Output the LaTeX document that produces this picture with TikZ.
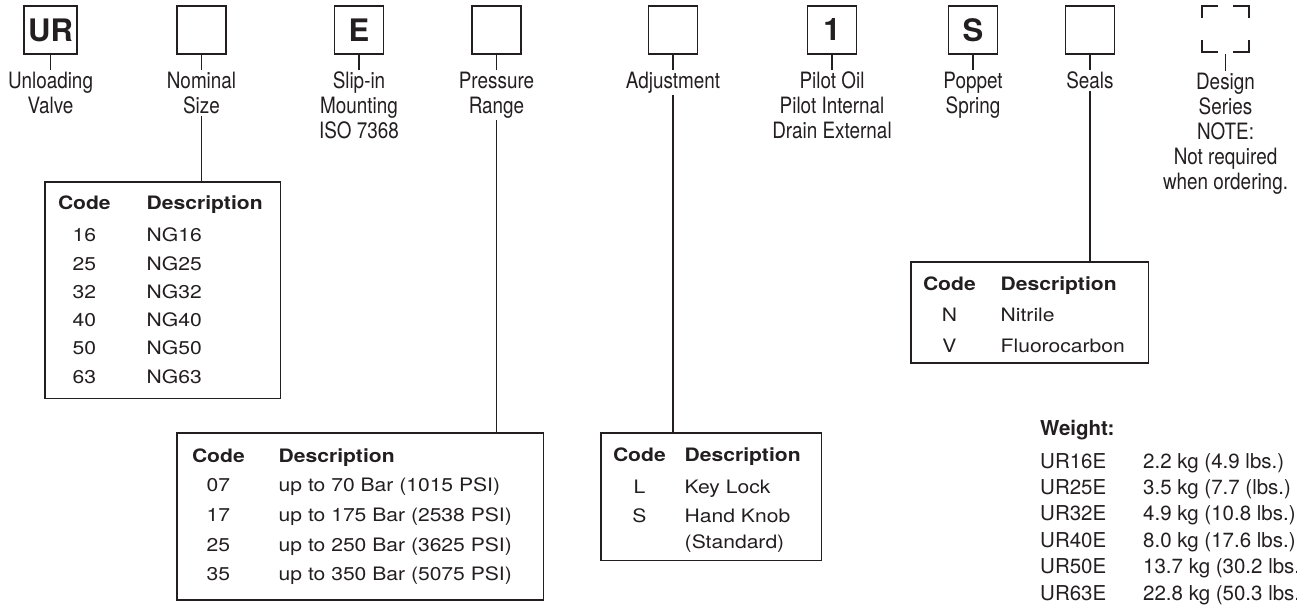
\documentclass[tikz,border=0pt]{standalone}
\usepackage{fontspec}
\setmainfont{TeX Gyre Heros}
\newfontfamily\capfont[FakeStretch=0.84]{TeX Gyre Heros}
\newfontfamily\tabfont[FakeStretch=1.14]{TeX Gyre Heros}
\usetikzlibrary{positioning}
\definecolor{ink}{RGB}{35,31,32}

\tikzset{
	codebox/.style={draw=ink, line width=1.6bp, minimum width=49bp, minimum height=48bp,
		inner xsep=4bp, inner ysep=0pt, outer sep=0pt, text=ink,
		font=\bfseries\fontsize{31bp}{31bp}\selectfont},
	cornerbox/.style={minimum width=47bp, minimum height=46bp, inner sep=0pt, outer sep=0pt},
	caption/.style={align=center, inner sep=2bp, outer sep=0pt, text=ink,
		font=\capfont\fontsize{22.5bp}{25bp}\selectfont},
	codetable/.style={draw=ink, line width=1.4bp, anchor=north west, inner ysep=0pt,
		outer sep=0pt, text=ink},
	link/.style={draw=ink, line width=1.4bp},
}

\begin{document}
\begin{tikzpicture}[x=1bp,y=-1bp]

	\useasboundingbox (0,0) rectangle (1297,607);

	% order code boxes
	\node[codebox] (ur) at (50.5,30) {UR};
	\node[codebox] (size) at (201.5,30) {};
	\node[codebox] (mount) at (359,30) {E};
	\node[codebox] (press) at (496.5,30) {};
	\node[codebox] (adj) at (673,30) {};
	\node[codebox] (pilot) at (832,30) {1};
	\node[codebox] (spring) at (973,30) {S};
	\node[codebox] (seals) at (1090,30) {};

	\node[cornerbox] (design) at (1225.5,29) {};
	\draw[link] (design.north west) ++(0,12) |- ++(16,-12);
	\draw[link] (design.north east) ++(-16,0) -| ++(16,12);
	\draw[link] (design.south west) ++(0,-12) |- ++(16,12);
	\draw[link] (design.south east) ++(-16,0) -| ++(16,-12);

	% captions
	\node[caption, below=16bp of ur] (urtxt) {Unloading\\Valve};
	\node[caption, below=16bp of size] (sizetxt) {Nominal\\Size};
	\node[caption, below=16bp of mount] (mounttxt) {Slip-in\\Mounting\\ISO 7368};
	\node[caption, below=16bp of press] (presstxt) {Pressure\\Range};
	\node[caption, below=16bp of adj] (adjtxt) {Adjustment};
	\node[caption, below=16bp of pilot] (pilottxt) {Pilot Oil\\Pilot Internal\\Drain External};
	\node[caption, below=16bp of spring] (springtxt) {Poppet\\Spring};
	\node[caption, below=16bp of seals] (sealstxt) {Seals};
	\node[caption, below=19bp of design] (designtxt) {Design\\Series\\NOTE:\\Not required\\when ordering.};

	\draw[link] (ur) -- (urtxt);
	\draw[link] (size) -- (sizetxt);
	\draw[link] (mount) -- (mounttxt);
	\draw[link] (press) -- (presstxt);
	\draw[link] (adj) -- (adjtxt);
	\draw[link] (pilot) -- (pilottxt);
	\draw[link] (spring) -- (springtxt);
	\draw[link] (seals) -- (sealstxt);
	\draw[link, shorten <=2bp] (design) -- (designtxt);

	% code tables
	\node[codetable, inner xsep=13bp, font=\tabfont\fontsize{18.5bp}{28.3bp}\selectfont] (nomtab) at (45,182) {%
		\begin{tabular}{@{}c@{\hspace{36bp}}p{121bp}@{}}
			\rule{0pt}{28bp}\textbf{Code} & \textbf{Description}\\[3.4bp]
			16 & NG16\\
			25 & NG25\\
			32 & NG32\\
			40 & NG40\\
			50 & NG50\\
			63 & NG63\rule[-15bp]{0pt}{15bp}
		\end{tabular}};

	\node[codetable, inner xsep=15bp, font=\tabfont\fontsize{18.5bp}{29.7bp}\selectfont] (prtab) at (177,433) {%
		\begin{tabular}{@{}c@{\hspace{34bp}}p{250bp}@{}}
			\rule{0pt}{29bp}\textbf{Code} & \textbf{Description}\\
			07 & up to 70 Bar (1015 PSI)\\
			17 & up to 175 Bar (2538 PSI)\\
			25 & up to 250 Bar (3625 PSI)\\
			35 & up to 350 Bar (5075 PSI)\rule[-19bp]{0pt}{19bp}
		\end{tabular}};

	\node[codetable, inner xsep=12bp, font=\tabfont\fontsize{18.5bp}{29bp}\selectfont] (adjtab) at (601,433) {%
		\begin{tabular}{@{}c@{\hspace{19bp}}p{125bp}@{}}
			\rule{0pt}{28bp}\textbf{Code} & \textbf{Description}\\[3bp]
			L & Key Lock\\
			S & Hand Knob\\[-2.4bp]
			  & (Standard)\rule[-12bp]{0pt}{12bp}
		\end{tabular}};

	\node[codetable, inner xsep=12bp, font=\tabfont\fontsize{18.5bp}{31bp}\selectfont] (sealtab) at (911,262) {%
		\begin{tabular}{@{}c@{\hspace{25bp}}p{136bp}@{}}
			\rule{0pt}{28bp}\textbf{Code} & \textbf{Description}\\
			N & Nitrile\\
			V & Fluorocarbon\rule[-11bp]{0pt}{11bp}
		\end{tabular}};

	\draw[link] (sizetxt.south) -- (sizetxt.south |- nomtab.north);
	\draw[link] (presstxt.south) -- (presstxt.south |- prtab.north);
	\draw[link] (adjtxt.south) -- (adjtxt.south |- adjtab.north);
	\draw[link] (sealstxt.south) -- (sealstxt.south |- sealtab.north);

	% weights
	\node[anchor=base west, inner sep=0pt, text=ink, font=\fontsize{20.5bp}{26.4bp}\selectfont] (weight) at (1040,435) {%
		\begin{tabular}[t]{@{}p{103bp}@{}l@{}}
			\multicolumn{2}{@{}l}{\textbf{Weight:}}\\[6.6bp]
			UR16E & 2.2 kg (4.9 lbs.)\\
			UR25E & 3.5 kg (7.7 (lbs.)\\
			UR32E & 4.9 kg (10.8 lbs.)\\
			UR40E & 8.0 kg (17.6 lbs.)\\
			UR50E & 13.7 kg (30.2 lbs.)\\
			UR63E & 22.8 kg (50.3 lbs.)
		\end{tabular}};

\end{tikzpicture}
\end{document}
